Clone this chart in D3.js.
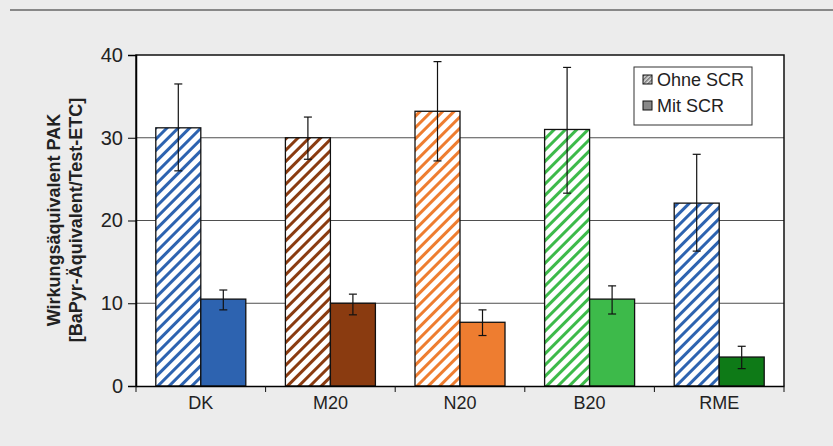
<!DOCTYPE html>
<html><head><meta charset="utf-8">
<script src="https://cdn.jsdelivr.net/npm/d3@7"></script>
<style>body{margin:0;background:#ebebeb}</style>
</head><body>
<script>
const categories = ['DK', 'M20', 'N20', 'B20', 'RME'];
const colors = ['#2d63b0', '#8a3b10', '#ee7d30', '#3dba4a', '#0e7a17'];
const hatchColors = ['#2d63b0', '#8a3b10', '#ee7d30', '#3dba4a', '#2d63b0'];
const ohne = [31.2, 30.0, 33.2, 31.0, 22.1];
const ohneErr = [[26.0, 36.5], [27.4, 32.5], [27.2, 39.2], [23.3, 38.5], [16.3, 28.0]];
const mit = [10.5, 10.0, 7.7, 10.5, 3.5];
const mitErr = [[9.2, 11.6], [8.6, 11.1], [6.1, 9.2], [8.7, 12.1], [2.1, 4.8]];
const yTicks = [0, 10, 20, 30, 40];

const W = 833, H = 446;
const m = {left: 136, right: 49, top: 55, bottom: 60};
const iw = W - m.left - m.right, ih = H - m.top - m.bottom;
const font = 'Liberation Sans, Arial, sans-serif';

const svg = d3.select('body').append('svg').attr('width', W).attr('height', H)
  .style('font-family', font);
svg.append('rect').attr('width', W).attr('height', H).attr('fill', '#ececec');
svg.append('line').attr('x1', 10).attr('x2', W).attr('y1', 10).attr('y2', 10)
  .attr('stroke', '#888').attr('stroke-width', 2);

const defs = svg.append('defs');
hatchColors.forEach((c, i) => {
  const p = defs.append('pattern').attr('id', 'h' + i).attr('patternUnits', 'userSpaceOnUse')
    .attr('width', 8).attr('height', 8).attr('patternTransform', 'rotate(45)');
  p.append('rect').attr('width', 8).attr('height', 8).attr('fill', 'white');
  p.append('rect').attr('width', 3).attr('height', 8).attr('fill', c);
});
const lp = defs.append('pattern').attr('id', 'hl').attr('patternUnits', 'userSpaceOnUse')
  .attr('width', 3).attr('height', 3).attr('patternTransform', 'rotate(45)');
lp.append('rect').attr('width', 3).attr('height', 3).attr('fill', '#ddd');
lp.append('rect').attr('width', 1.5).attr('height', 3).attr('fill', '#777');

const g = svg.append('g').attr('transform', `translate(${m.left},${m.top})`);
const x = d3.scaleBand().domain(categories).range([0, iw]);
const xi = d3.scaleBand().domain(['o', 'm']).range([0, x.bandwidth()]).paddingOuter(0.44);
const y = d3.scaleLinear().domain([0, 40]).range([ih, 0]);

g.append('rect').attr('width', iw).attr('height', ih).attr('fill', 'white');
g.selectAll('.grid').data(yTicks.slice(1, 4)).join('line')
  .attr('x1', 0).attr('x2', iw).attr('y1', d => y(d)).attr('y2', d => y(d))
  .attr('stroke', '#222').attr('stroke-width', 0.8);

const grp = g.selectAll('.grp').data(categories).join('g')
  .attr('transform', d => `translate(${x(d)},0)`);
grp.append('rect').attr('x', xi('o')).attr('width', xi.bandwidth())
  .attr('y', (d, i) => y(ohne[i])).attr('height', (d, i) => ih - y(ohne[i]))
  .attr('fill', (d, i) => `url(#h${i})`).attr('stroke', '#111').attr('stroke-width', 1.3);
grp.append('rect').attr('x', xi('m')).attr('width', xi.bandwidth())
  .attr('y', (d, i) => y(mit[i])).attr('height', (d, i) => ih - y(mit[i]))
  .attr('fill', (d, i) => colors[i]).attr('stroke', '#111').attr('stroke-width', 1.3);

function err(sel, key, data) {
  const cx = xi(key) + xi.bandwidth() / 2;
  sel.append('line').attr('x1', cx).attr('x2', cx)
    .attr('y1', (d, i) => y(data[i][0])).attr('y2', (d, i) => y(data[i][1]));
  [0, 1].forEach(k => sel.append('line').attr('x1', cx - 4).attr('x2', cx + 4)
    .attr('y1', (d, i) => y(data[i][k])).attr('y2', (d, i) => y(data[i][k])));
  sel.selectAll('line').attr('stroke', '#111').attr('stroke-width', 1.2);
}
err(grp, 'o', ohneErr);
err(grp, 'm', mitErr);

g.append('path').attr('d', `M0,${ih}V0H${iw}V${ih}`).attr('fill', 'none')
  .attr('stroke', '#111').attr('stroke-width', 1.5);

const yAx = g.append('g').call(d3.axisLeft(y).tickValues(yTicks).tickSize(8).tickPadding(5))
  .attr('font-family', font).attr('font-size', 20);
yAx.select('.domain').attr('stroke-width', 1.5);
yAx.selectAll('text').attr('fill', '#222');

const xAx = g.append('g').attr('transform', `translate(0,${ih})`)
  .call(d3.axisBottom(x).tickSize(0).tickPadding(10))
  .attr('font-family', font).attr('font-size', 18);
xAx.select('.domain').attr('stroke-width', 1.5);
xAx.selectAll('text').attr('fill', '#222');
g.append('g').selectAll('line').data(d3.range(categories.length + 1)).join('line')
  .attr('x1', d => d * x.bandwidth()).attr('x2', d => d * x.bandwidth())
  .attr('y1', ih).attr('y2', ih + 6).attr('stroke', '#111');

svg.append('text').attr('transform', 'translate(60,220) rotate(-90)').attr('text-anchor', 'middle')
  .attr('font-size', 18).attr('font-weight', 'bold').attr('fill', '#222')
  .text('Wirkungsäquivalent PAK');
svg.append('text').attr('transform', 'translate(82,220) rotate(-90)').attr('text-anchor', 'middle')
  .attr('font-size', 18).attr('font-weight', 'bold').attr('fill', '#222')
  .text('[BaPyr-Äquivalent/Test-ETC]');

const lg = svg.append('g').attr('transform', 'translate(634,67)');
lg.append('rect').attr('width', 118).attr('height', 58).attr('fill', 'white').attr('stroke', '#333');
[['Ohne SCR', 'url(#hl)'], ['Mit SCR', '#888']].forEach((d, i) => {
  lg.append('rect').attr('x', 9).attr('y', 8 + i * 26).attr('width', 9).attr('height', 9)
    .attr('fill', d[1]).attr('stroke', '#111');
  lg.append('text').attr('x', 23).attr('y', 19 + i * 26).attr('font-size', 18).attr('fill', '#222').text(d[0]);
});
</script>
</body></html>
